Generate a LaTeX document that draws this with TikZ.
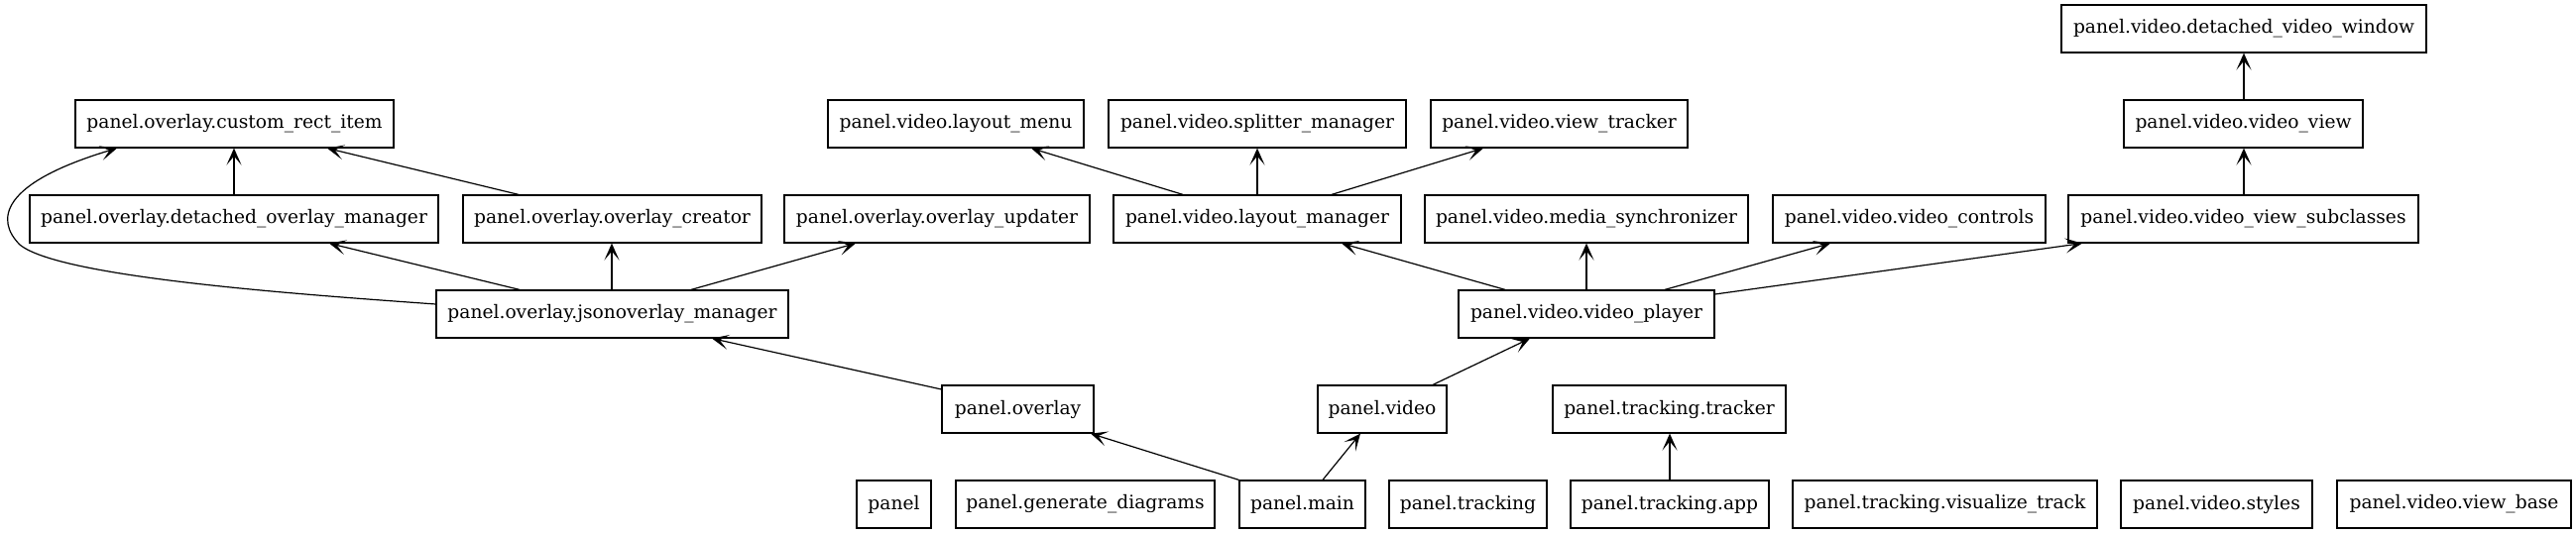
\documentclass[tikz,border=0pt]{standalone}
\usepackage{fontspec}
\setmainfont{DejaVu Serif}
\usetikzlibrary{arrows.meta}
\tikzset{
  box/.style={draw, line width=0.6pt, inner sep=0pt, font=\fontsize{9.33}{11}\selectfont},
  dep/.style={-{Stealth[length=8.5pt,width=7.5pt,inset=4.5pt]}, line width=0.6pt},
}
\newcommand\bx[6]{\node[box, minimum width={(#3-#2)*0.5pt}, minimum height={(#5-#4)*0.5pt}] (#1) at ({(#2+#3)/2},{(#4+#5)/2}) {#6};}
\begin{document}
\begin{tikzpicture}[x=0.5pt,y=-0.5pt]
\useasboundingbox (0,0) rectangle (2598,539);
% row 1
\bx{DVW}{2079}{2447}{5}{53}{panel.video.detached\_video\_window}
% row 2
\bx{CRI}{76}{397}{101}{149}{panel.overlay.custom\_rect\_item}
\bx{LMenu}{835}{1093}{101}{149}{panel.video.layout\_menu}
\bx{SM}{1118}{1418}{101}{149}{panel.video.splitter\_manager}
\bx{VT}{1443}{1702}{101}{149}{panel.video.view\_tracker}
\bx{VV}{2142}{2383}{101}{149}{panel.video.video\_view}
% row 3
\bx{DOM}{30}{442}{197}{245}{panel.overlay.detached\_overlay\_manager}
\bx{OC}{467}{768}{197}{245}{panel.overlay.overlay\_creator}
\bx{OU}{791}{1099}{197}{245}{panel.overlay.overlay\_updater}
\bx{LM}{1123}{1413}{197}{245}{panel.video.layout\_manager}
\bx{MS}{1437}{1763}{197}{245}{panel.video.media\_synchronizer}
\bx{VC}{1788}{2063}{197}{245}{panel.video.video\_controls}
\bx{VVS}{2086}{2439}{197}{245}{panel.video.video\_view\_subclasses}
% row 4
\bx{JOM}{440}{795}{293}{341}{panel.overlay.jsonoverlay\_manager}
\bx{VP}{1471}{1729}{293}{341}{panel.video.video\_player}
% row 5
\bx{OV}{950}{1103}{389}{437}{panel.overlay}
\bx{VID}{1329}{1459}{389}{437}{panel.video}
\bx{TT}{1566}{1801}{389}{437}{panel.tracking.tracker}
% row 6
\bx{P}{864}{939}{485}{533}{panel}
\bx{GD}{964}{1225}{485}{533}{panel.generate\_diagrams}
\bx{MAIN}{1250}{1377}{485}{533}{panel.main}
\bx{TR}{1401}{1560}{485}{533}{panel.tracking}
\bx{TA}{1584}{1784}{485}{533}{panel.tracking.app}
\bx{VTR}{1808}{2115}{485}{533}{panel.tracking.visualize\_track}
\bx{VS}{2139}{2332}{485}{533}{panel.video.styles}
\bx{VB}{2357}{2593}{485}{533}{panel.video.view\_base}
% edges
\draw[dep] (DOM.north -| 236,0) -- (CRI.south -| 236,0);
\draw[dep] (OC.north -| 523,0) -- (CRI.south -| 330,0);
\draw[dep] (JOM.west |- 0,307) .. controls (300,297) and (60,280) .. (20,247) .. controls (-5,222) and (0,185) .. (CRI.south -| 118,0);
\draw[dep] (JOM.north -| 524,0) -- (DOM.south -| 332,0);
\draw[dep] (JOM.north -| 617,0) -- (OC.south -| 617,0);
\draw[dep] (JOM.north -| 697,0) -- (OU.south -| 863,0);
\draw[dep] (LM.north -| 1193,0) -- (LMenu.south -| 1040,0);
\draw[dep] (LM.north -| 1268,0) -- (SM.south -| 1268,0);
\draw[dep] (LM.north -| 1343,0) -- (VT.south -| 1496,0);
\draw[dep] (VP.north -| 1518,0) -- (LM.south -| 1353,0);
\draw[dep] (VP.north -| 1600,0) -- (MS.south -| 1600,0);
\draw[dep] (VP.north -| 1679,0) -- (VC.south -| 1846,0);
\draw[dep] (VP.east |- 0,297) -- (VVS.south -| 2100,0);
\draw[dep] (VVS.north -| 2263,0) -- (VV.south -| 2263,0);
\draw[dep] (VV.north -| 2263,0) -- (DVW.south -| 2263,0);
\draw[dep] (OV.west |- 0,393) -- (JOM.south -| 718,0);
\draw[dep] (MAIN.north west) -- (OV.south -| 1100,0);
\draw[dep] (MAIN.north -| 1334,0) -- (VID.south -| 1372,0);
\draw[dep] (VID.north -| 1445,0) -- (VP.south -| 1543,0);
\draw[dep] (TA.north -| 1684,0) -- (TT.south -| 1684,0);
\end{tikzpicture}
\end{document}
